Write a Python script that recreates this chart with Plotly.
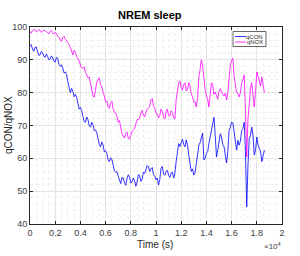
import plotly.graph_objects as go

qcon = [94.5, 94.6, 93.2, 92.6, 93.8, 93.9, 92.5, 91.4, 91.5, 92.6, 92.2, 91.0, 90.8, 91.8, 91.0, 90.0, 90.3, 91.2, 90.6, 89.6,
        89.3, 90.8, 90.4, 88.6, 88.0, 88.5, 87.5, 86.0, 86.3, 85.5, 83.5, 81.2, 80.0, 81.3, 80.5, 78.8, 79.5, 78.6, 76.8, 75.0,
        75.5, 74.6, 72.8, 71.2, 71.0, 72.6, 71.8, 70.0, 69.5, 71.0, 70.2, 68.5, 68.6, 67.8, 66.0, 64.2, 63.5, 65.0, 64.0, 62.0,
        62.3, 61.5, 59.5, 59.0, 60.2, 59.6, 58.0, 56.2, 55.8, 55.9, 54.5, 53.0, 52.3, 54.2, 54.0, 52.6, 51.8, 53.8, 55.0, 54.2,
        52.5, 52.8, 54.0, 53.2, 51.5, 52.8, 55.0, 54.8, 53.0, 53.6, 55.8, 55.4, 56.5, 57.8, 57.4, 56.0, 56.8, 57.2, 55.0, 54.6,
        53.5, 54.0, 51.9, 53.5, 57.0, 57.5, 55.2, 54.8, 56.0, 56.4, 54.8, 54.2, 55.5, 55.8, 54.0, 55.5, 59.0, 62.0, 64.5, 63.6,
        65.0, 65.8, 64.2, 63.5, 65.6, 64.0, 61.0, 58.8, 56.0, 56.8, 54.9, 55.6, 58.5, 60.5, 64.0, 64.8, 66.5, 67.7, 59.5, 60.0,
        61.5, 62.0, 64.5, 66.5, 68.0, 69.5, 72.5, 67.0, 60.4, 62.5, 66.0, 67.5, 66.5, 64.2, 63.5, 61.5, 58.6, 62.0, 68.5, 69.5,
        71.0, 70.8, 68.0, 66.0, 62.5, 65.5, 64.0, 65.2, 68.5, 69.0, 71.0, 62.0, 45.2, 58.0, 66.0, 67.0, 69.5, 67.0, 61.0, 62.5,
        66.5, 64.0, 63.0, 62.0, 59.0, 61.5, 62.5]

qnox = [98.5, 98.2, 98.9, 99.3, 99.1, 98.6, 98.8, 99.2, 99.0, 98.4, 98.6, 99.0, 98.9, 98.5, 98.3, 98.0, 98.7, 98.9, 98.2, 97.8,
        98.4, 98.0, 97.2, 96.9, 96.0, 95.6, 96.8, 97.2, 96.3, 95.8, 95.0, 94.8, 93.8, 92.4, 91.5, 92.9, 92.3, 91.0, 90.5, 89.8,
        88.4, 87.6, 87.5, 87.8, 86.2, 85.0, 84.5, 84.8, 83.0, 81.5, 79.0, 78.6, 81.7, 83.2, 83.9, 84.5, 82.5, 81.8, 80.0, 79.0,
        77.2, 77.5, 75.6, 75.2, 77.0, 77.4, 75.0, 74.0, 73.8, 72.8, 71.0, 71.5, 69.5, 67.5, 66.8, 66.2, 67.5, 68.0, 66.2, 65.8,
        67.0, 68.2, 68.6, 69.0, 70.5, 71.8, 71.7, 72.2, 73.8, 74.6, 73.2, 72.6, 74.0, 75.0, 75.3, 75.8, 77.8, 78.2, 76.0, 75.2,
        73.8, 73.5, 72.3, 73.0, 75.0, 74.4, 72.6, 72.0, 74.2, 75.0, 73.0, 72.8, 74.5, 74.0, 72.3, 72.0, 78.0, 80.5, 83.0, 83.6,
        81.5, 80.8, 82.5, 83.0, 80.5, 81.0, 83.0, 82.0, 79.5, 78.8, 77.0, 77.2, 75.6, 78.5, 84.8, 87.0, 90.0, 88.0, 83.9, 81.0,
        79.0, 78.0, 75.6, 79.0, 83.0, 82.2, 79.5, 80.2, 78.7, 78.0, 80.5, 81.2, 80.2, 79.6, 79.0, 79.8, 77.8, 80.0, 86.0, 88.5,
        89.8, 90.5, 85.0, 82.0, 80.0, 79.8, 78.7, 80.0, 83.0, 84.0, 85.4, 75.0, 60.4, 72.0, 78.0, 81.5, 83.0, 80.0, 75.6, 80.5,
        86.3, 85.0, 83.0, 82.0, 84.8, 82.5, 80.0]

time_s = [100 * i for i in range(len(qcon))]

x_tickvals = [0, 2000, 4000, 6000, 8000, 10000, 12000, 14000, 16000, 18000, 20000]
x_ticktext = ["0", "0.2", "0.4", "0.6", "0.8", "1", "1.2", "1.4", "1.6", "1.8", "2"]
y_tickvals = [40, 50, 60, 70, 80, 90, 100]

series_names = ["qCON", "qNOX"]
series_colors = ["#0000ff", "#ff00ff"]

fig = go.Figure()
fig.add_trace(go.Scatter(x=time_s, y=qcon, mode="lines", name=series_names[0],
                         line=dict(color=series_colors[0], width=0.8)))
fig.add_trace(go.Scatter(x=time_s, y=qnox, mode="lines", name=series_names[1],
                         line=dict(color=series_colors[1], width=0.8)))

W, H = 300, 256
L, R, T, B = 30, 18, 27, 32
pw, ph = W - L - R, H - T - B

def px(xp):
    return (xp - L) / pw

def py(yp):
    return (H - B - yp) / ph

FONT = "Liberation Sans, Arial"
axis_common = dict(
    showline=True, linecolor="#262626", linewidth=1, mirror="allticks",
    ticks="inside", ticklen=3, tickcolor="#262626",
    showgrid=True, gridcolor="#e4e4e4", gridwidth=1,
    zeroline=False,
    tickfont=dict(family=FONT, size=9, color="#404040"),
)

fig.update_xaxes(range=[0, 20000], tickvals=x_tickvals, ticktext=x_ticktext,
                 minor=dict(dtick=500, showgrid=True, gridcolor="#f0f0f0",
                            griddash="dot", ticks=""),
                 **axis_common)
fig.update_yaxes(range=[40, 100], tickvals=y_tickvals,
                 minor=dict(dtick=2, showgrid=True, gridcolor="#f0f0f0",
                            griddash="dot", ticks=""),
                 **axis_common)

annotations = [
    dict(text="<b>NREM sleep</b>", xref="paper", yref="paper", x=px(149.5), y=py(15),
         showarrow=False, xanchor="center", yanchor="middle",
         font=dict(family=FONT, size=11, color="#000000")),
    dict(text="qCON/qNOX", xref="paper", yref="paper", x=px(8), y=py(125),
         showarrow=False, textangle=-90, xanchor="center", yanchor="middle",
         font=dict(family=FONT, size=10, color="#262626")),
    dict(text="Time (s)", xref="paper", yref="paper", x=px(155), y=py(244),
         showarrow=False, xanchor="center", yanchor="middle",
         font=dict(family=FONT, size=10, color="#262626")),
    dict(text="×10<sup>4</sup>", xref="paper", yref="paper", x=px(283), y=py(246),
         showarrow=False, xanchor="right", yanchor="middle",
         font=dict(family=FONT, size=8, color="#404040")),
]

shapes = [
    dict(type="rect", xref="paper", yref="paper", x0=px(233), x1=px(266),
         y0=py(46.5), y1=py(31.5), line=dict(color="#404040", width=0.8),
         fillcolor="white", layer="above"),
]
legend_rows = [36.5, 42]
for name, color, yrow in zip(series_names, series_colors, legend_rows):
    shapes.append(dict(type="line", xref="paper", yref="paper", x0=px(235), x1=px(246),
                       y0=py(yrow), y1=py(yrow), line=dict(color=color, width=0.8),
                       layer="above"))
    annotations.append(dict(text=name, xref="paper", yref="paper", x=px(265), y=py(yrow),
                            showarrow=False, xanchor="right", yanchor="middle",
                            font=dict(family=FONT, size=6, color="#262626")))

fig.update_layout(
    width=W, height=H, margin=dict(l=L, r=R, t=T, b=B),
    paper_bgcolor="white", plot_bgcolor="white",
    showlegend=False, annotations=annotations, shapes=shapes,
)

fig.write_html("out.html")
